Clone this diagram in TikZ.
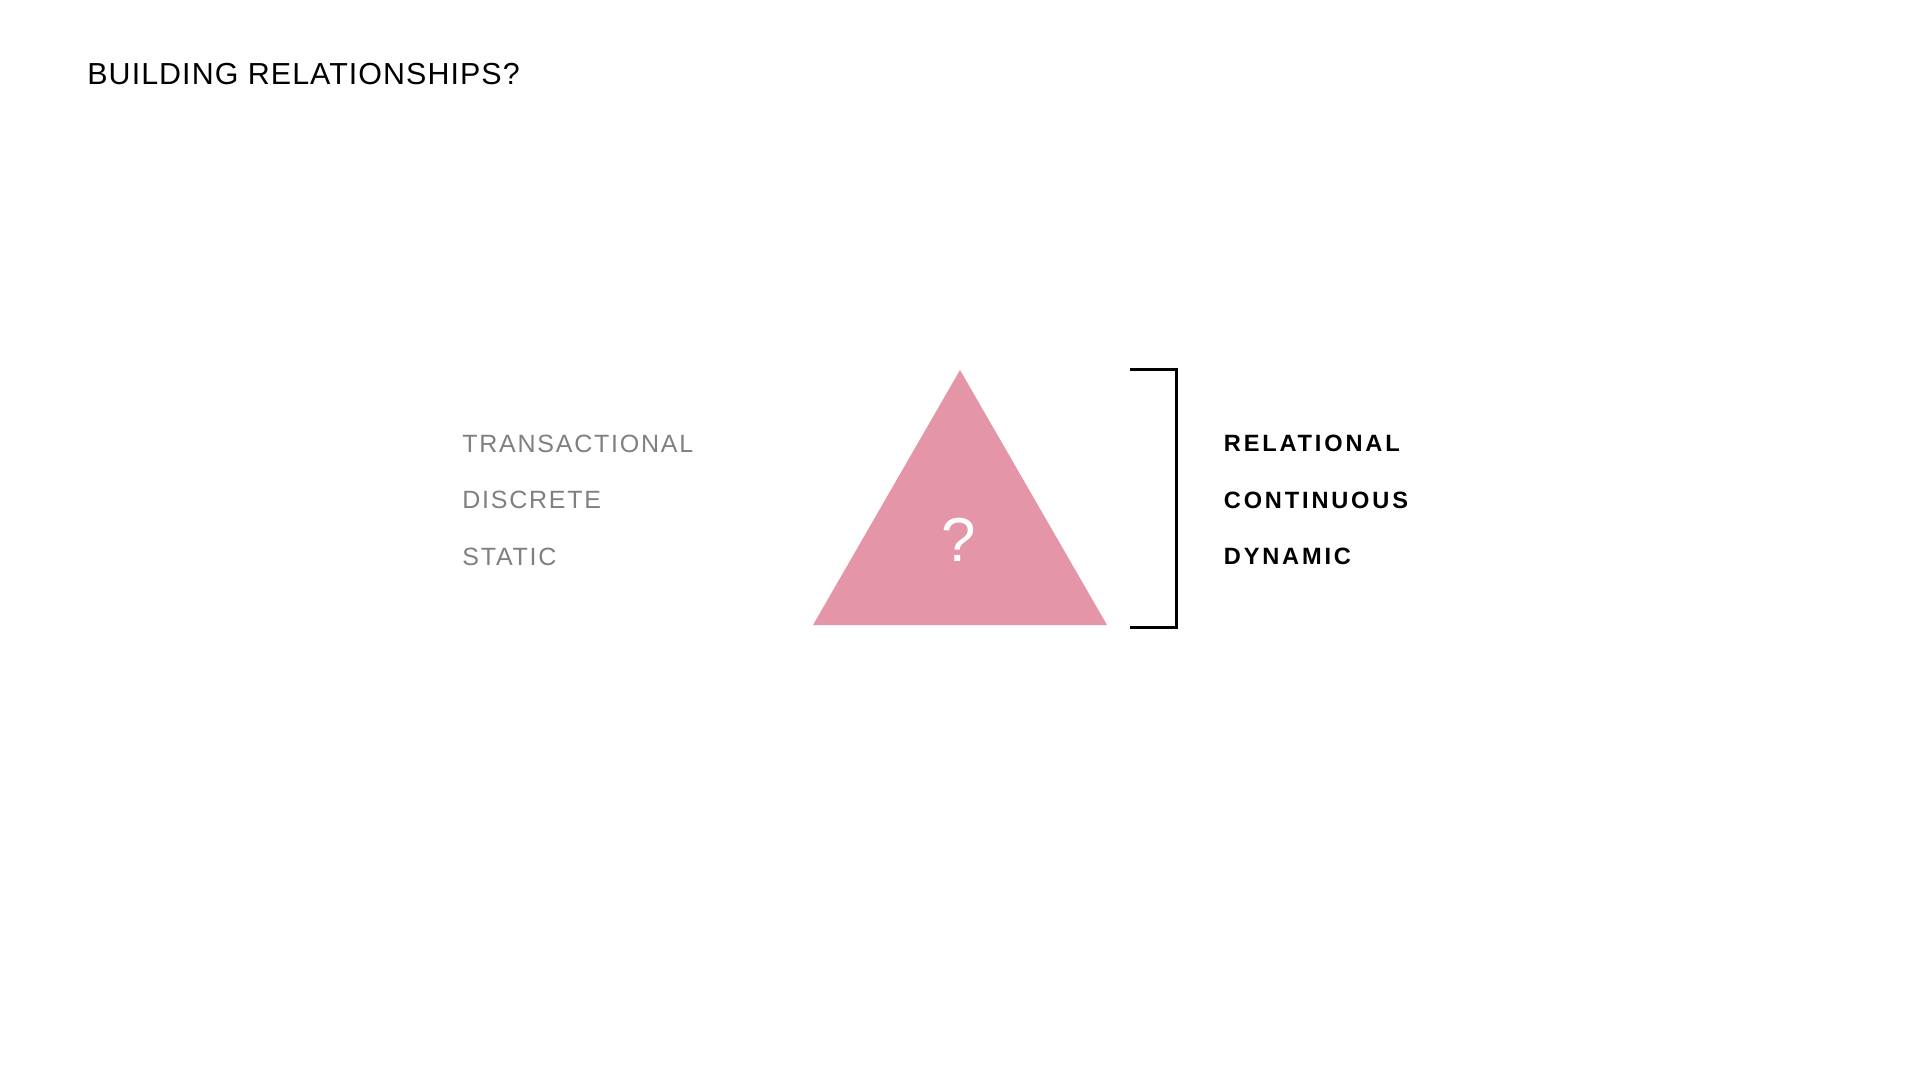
\documentclass[tikz,border=0pt]{standalone}
\usepackage{fontspec}
\setmainfont{Liberation Sans}
\newfontfamily\titlefont[LetterSpace=3.5]{Liberation Sans}
\newfontfamily\greyfont[LetterSpace=7]{Liberation Sans}
\newfontfamily\boldfont[LetterSpace=12]{Liberation Sans Bold}
\definecolor{pinkfill}{HTML}{E595A8}
\definecolor{greytext}{HTML}{808080}
\tikzset{
  x=0.5pt, y=-0.5pt,
  title/.style={anchor=base west, inner sep=0, font=\titlefont\fontsize{15.2}{18}\selectfont, text=black},
  leftlabel/.style={anchor=base west, inner sep=0, font=\greyfont\fontsize{12.5}{15}\selectfont, text=greytext},
  rightlabel/.style={anchor=base west, inner sep=0, font=\boldfont\fontsize{11.8}{15}\selectfont, text=black},
  bracket/.style={draw=black, line width=1.5pt},
}
\begin{document}
\begin{tikzpicture}
\useasboundingbox[fill=white] (0,0) rectangle (1920,1080);
\node[title] (title) at (87,85) {BUILDING RELATIONSHIPS?};
\node[leftlabel] (l1) at (462,452) {TRANSACTIONAL};
\node[leftlabel] (l2) at (462,508) {DISCRETE};
\node[leftlabel] (l3) at (462,565) {STATIC};
\fill[pinkfill] (960,370) -- (1107,625) -- (813,625) -- cycle;
\node[anchor=base, inner sep=0, text=white, font=\fontsize{31}{36}\selectfont] (q) at (959,561) {?};
\coordinate (bt) at (1130,369);
\coordinate (bb) at (1130,627);
\draw[bracket] (bt) -- (1176,369) -- (1176,627) -- (bb);
\node[rightlabel] (r1) at (1223.5,451) {RELATIONAL};
\node[rightlabel] (r2) at (1223.5,508) {CONTINUOUS};
\node[rightlabel] (r3) at (1223.5,564) {DYNAMIC};
\end{tikzpicture}
\end{document}
